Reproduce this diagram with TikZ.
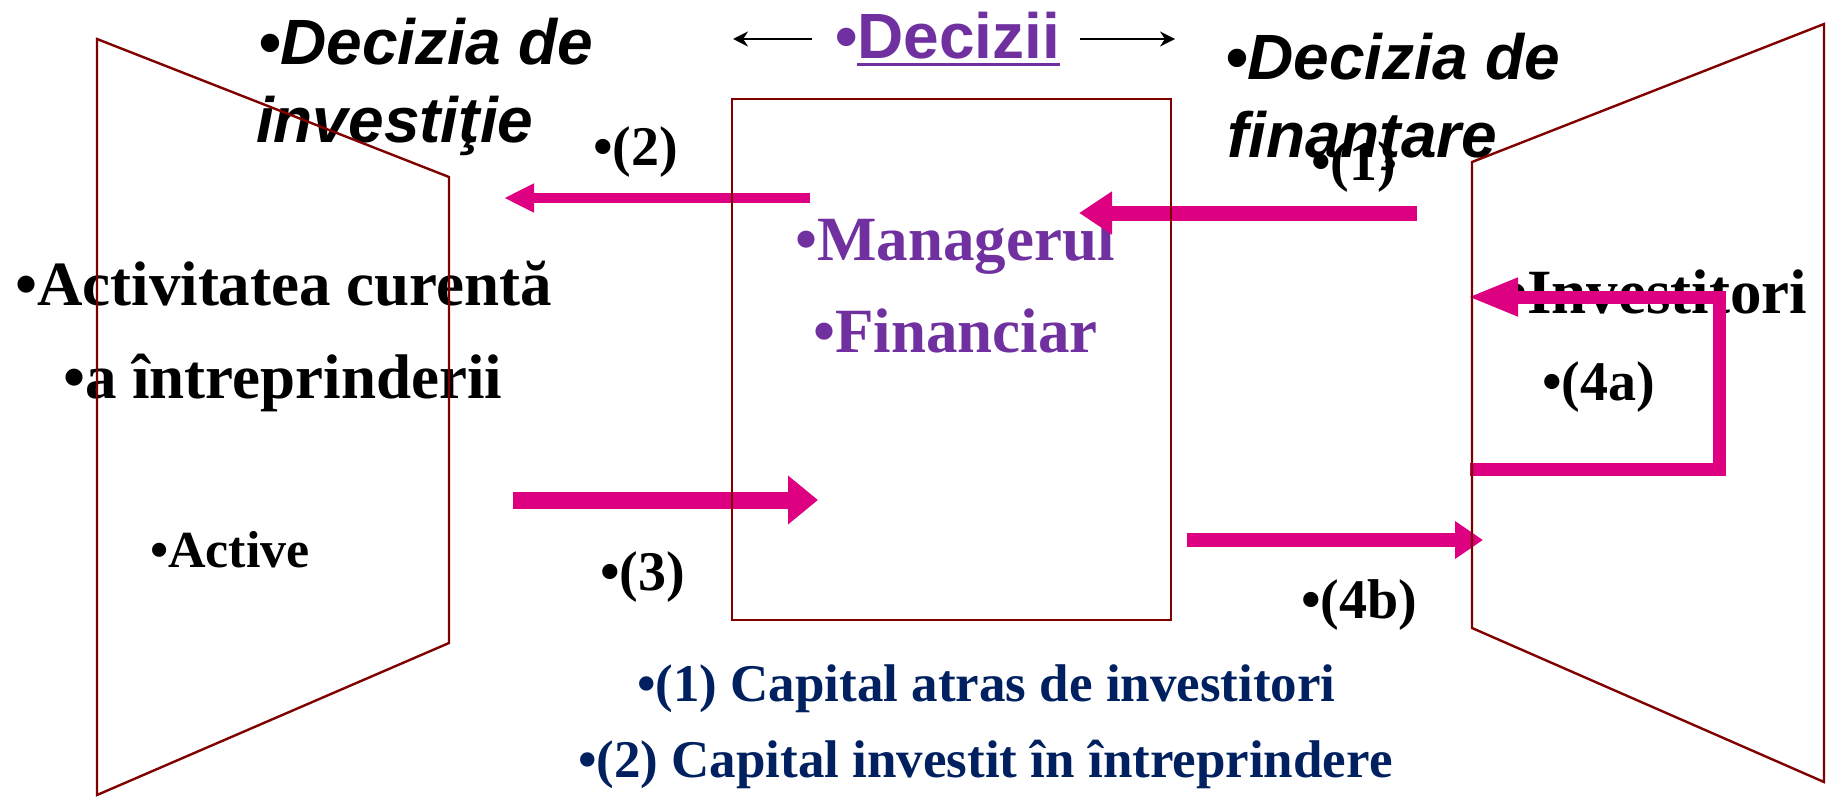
\documentclass[tikz,border=0pt]{standalone}
\usepackage{fontspec}
\setmainfont{Liberation Serif}
\newfontfamily\arialf{Liberation Sans}
\usetikzlibrary{arrows.meta}
\definecolor{pinkar}{RGB}{221,0,128}
\definecolor{purp}{RGB}{112,48,160}
\definecolor{navy}{RGB}{0,32,96}
\definecolor{outl}{RGB}{128,0,0}
\newcommand\myul[1]{\setbox0\hbox{#1}\rlap{\rule[-3.7pt]{\wd0}{1.5pt}}\box0}
\begin{document}
\begin{tikzpicture}[x=0.5pt,y=-0.5pt,
  txt/.style={anchor=base west, inner sep=0pt, outer sep=0pt},
  headi/.style={txt, font=\arialf\fontsize{32}{38}\selectfont\bfseries\itshape},
  deciz/.style={txt, text=purp, font=\arialf\fontsize{32}{38}\selectfont\bfseries},
  mgrtxt/.style={txt, text=purp, font=\fontsize{31.5}{38}\selectfont\bfseries},
  bigtxt/.style={txt, font=\fontsize{31.5}{38}\selectfont\bfseries},
  lab/.style={txt, font=\fontsize{28}{34}\selectfont\bfseries},
  acttxt/.style={txt, font=\fontsize{26}{32}\selectfont\bfseries},
  captxt/.style={txt, text=navy, font=\fontsize{26.5}{32}\selectfont\bfseries},
  thinar/.style={draw=black, line width=1pt, -{Stealth[length=7.5pt,width=7.5pt]}},
  pinkar/.style={draw=pinkar, line cap=butt, line join=miter},
  outline/.style={draw=outl, line width=1.2pt, line join=miter}
]
\useasboundingbox (0,0) rectangle (1835,797);

% texts
\node[headi] (dinv1) at (258,65) {•Decizia de};
\node[headi] (dinv2) at (256,142) {investiţie};
\node[headi] (dfin1) at (1225,80) {•Decizia de};
\node[headi] (dfin2) at (1227,157) {finanţare};
\node[deciz] (dec) at (835,59) {•\myul{Decizii}};

\node[mgrtxt] (mgr1) at (795,260) {•Managerul};
\node[mgrtxt] (mgr2) at (813,352) {•Financiar};

\node[bigtxt] (act1) at (15,305) {•Activitatea curentă};
\node[bigtxt] (act2) at (63,398) {•a întreprinderii};
\node[bigtxt] (inv) at (1505,313) {•Investitori};
\node[acttxt] (active) at (150,567) {•Active};

\node[lab] (l2) at (593,165) {•(2)};
\node[lab] (l1) at (1311,180) {•(1)};
\node[lab] (l3) at (600,590) {•(3)};
\node[lab] (l4a) at (1542,400) {•(4a)};
\node[lab] (l4b) at (1301,618) {•(4b)};

\node[captxt] (cap1) at (637,701) {•(1) Capital atras de investitori};
\node[captxt] (cap2) at (578,777) {•(2) Capital investit în întreprindere};

% thin arrows around "Decizii"
\coordinate (dl1) at (812,39);
\coordinate (dl2) at (733,39);
\coordinate (dr1) at (1080,39);
\coordinate (dr2) at (1175,39);
\draw[thinar] (dl1) -- (dl2);
\draw[thinar] (dr1) -- (dr2);

% pink arrows
\coordinate (a2s) at (810,198);
\coordinate (a2e) at (504,198);
\coordinate (a1s) at (1417,213);
\coordinate (a1e) at (1079,213);
\coordinate (a3s) at (513,500);
\coordinate (a3e) at (818,500);
\coordinate (a4bs) at (1187,540);
\coordinate (a4be) at (1483,540);
\coordinate (a4as) at (1470,469);
\coordinate (a4ac1) at (1719,469);
\coordinate (a4ac2) at (1719,297);
\coordinate (a4ae) at (1467,297);

\draw[pinkar, line width=5pt, -{Triangle[length=15pt,width=13.5pt]}] (a2s) -- (a2e);
\draw[pinkar, line width=7.5pt, -{Triangle[length=16.5pt,width=20.5pt]}] (a1s) -- (a1e);
\draw[pinkar, line width=8.5pt, -{Triangle[length=15pt,width=23.5pt]}] (a3s) -- (a3e);
\draw[pinkar, line width=7pt, -{Triangle[length=14pt,width=18pt]}] (a4bs) -- (a4be);
\draw[pinkar, line width=6.5pt, -{Triangle[length=25.5pt,width=17.5pt]}] (a4as) -- (a4ac1) -- (a4ac2) -- (a4ae);

% outlines
\draw[outline] (97,39) -- (449,177) -- (449,643) -- (97,795) -- cycle;
\draw[outline] (732,99) rectangle (1171,620);
\draw[outline] (1472,162) -- (1824,24) -- (1824,782) -- (1472,628) -- cycle;
\end{tikzpicture}
\end{document}
